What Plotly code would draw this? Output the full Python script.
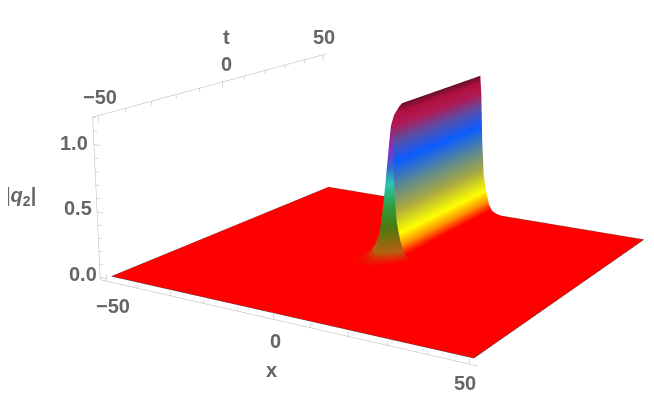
import numpy as np
import plotly.graph_objects as go

# values
x_edges = [-50, 50]
t_rows = [-50, -10, -8, -5, -3.6, -1.4, 0.6, 2, 4.5, 6, 50]
# x positions of the samples across the ridge
x_cols = [-8, -5, -3, -2, -1.2, -0.5, 0, 0.5, 1.2, 2, 3, 4, 5, 6.5, 8]
# |q2| across the ridge, one row per t
heights = [
    [0, 0, 0, 0, 0, 0, 0, 0, 0, 0, 0, 0, 0, 0, 0],
    [0, 0, 0, 0, 0, 0, 0, 0, 0, 0, 0, 0, 0, 0, 0],
    [0, 0.005, 0.01, 0.01, 0.01, 0.01, 0.01, 0.005, 0, 0, 0, 0, 0, 0, 0],
    [0, 0.01, 0.02, 0.03, 0.04, 0.04, 0.04, 0.04, 0.03, 0.02, 0.01, 0, 0, 0, 0],
    [0, 0.01, 0.04, 0.07, 0.10, 0.12, 0.12, 0.11, 0.09, 0.06, 0.03, 0.01, 0, 0, 0],
    [0, 0.02, 0.09, 0.17, 0.32, 0.52, 0.60, 0.52, 0.32, 0.17, 0.09, 0.04, 0.015, 0, 0],
    [0, 0.03, 0.16, 0.29, 0.54, 0.89, 1.03, 0.89, 0.54, 0.29, 0.16, 0.07, 0.025, 0.01, 0],
    [0, 0.03, 0.17, 0.31, 0.59, 0.96, 1.10, 0.96, 0.59, 0.31, 0.17, 0.07, 0.03, 0.01, 0],
    [0, 0.03, 0.18, 0.32, 0.61, 1.00, 1.15, 1.00, 0.61, 0.32, 0.18, 0.08, 0.03, 0.01, 0],
    [0, 0.03, 0.18, 0.33, 0.62, 1.01, 1.17, 1.01, 0.62, 0.33, 0.18, 0.08, 0.03, 0.01, 0],
    [0, 0.03, 0.18, 0.33, 0.62, 1.01, 1.17, 1.01, 0.62, 0.33, 0.18, 0.08, 0.03, 0.01, 0],
]
z_peak = 1.17

tick_labels_x = ["\u221250", "0", "50"]
tick_labels_t = ["\u221250", "0", "50"]
tick_labels_z = ["0.0", "0.5", "1.0"]

box_x = [-52, 52]
box_t = [-52, 52]
box_z = [-0.02, 1.2]

# view fitted to the picture; plotly's field of view is fixed, so the weak
# perspective of the original is applied here and the camera stays orthographic
az, el, D = np.radians(32.53), np.radians(16.08), 1402.0
sx, sz = 3.79, 127.55
off_right, off_up = 59.85, -46.25

view = np.array([np.sin(az) * np.cos(el), -np.cos(az) * np.cos(el), np.sin(el)])
right = np.array([np.cos(az), np.sin(az), 0])
up = np.cross(view, right)
pivot = -(off_right * right + off_up * up)


def warp(x, t, z):
    p = np.stack([np.asarray(x, float) * sx, np.asarray(t, float) * sx, np.asarray(z, float) * sz], axis=-1)
    w = 1 - p @ view / D
    q = pivot + (p - pivot) / w[..., None]
    return q[..., 0] / sx, q[..., 1] / sx, q[..., 2] / sz


x_grid = np.array([[x_edges[0]] + x_cols + [x_edges[1]]] * len(t_rows), dtype=float)
t_grid = np.array([[t] * (len(x_cols) + 2) for t in t_rows], dtype=float)
z_grid = np.array([[0] + r + [0] for r in heights], dtype=float)

wall_scale = [
    [0.0, "#ff0000"], [0.03, "#ff0000"], [0.09, "#ff8c00"], [0.17, "#ffff00"],
    [0.32, "#aaaa40"], [0.47, "#5f8a90"], [0.64, "#0a5cff"], [0.77, "#5a4fa8"],
    [0.88, "#b01a55"], [0.95, "#b01040"], [1.0, "#6a1028"],
]
cap_scale = [
    [0.0, "#ff0000"], [0.06, "#b86010"], [0.22, "#4a7a10"], [0.36, "#30a040"], [0.5, "#28c8b0"],
    [0.62, "#3a60d0"], [0.76, "#a020c0"], [0.88, "#a01060"], [1.0, "#901040"],
]
flat = dict(ambient=1, diffuse=0, specular=0, fresnel=0, roughness=1)

fig = go.Figure()
wx, wt, wz = warp(x_grid, t_grid, z_grid)

# the sheet and ridge wall, with a hole where the front cap goes
sheet_x, sheet_t, sheet_z = wx.copy(), wt.copy(), wz.copy()
sheet_z[2:6, 2:15] = np.nan
fig.add_trace(go.Surface(
    x=sheet_x, y=sheet_t, z=sheet_z, surfacecolor=z_grid / z_peak,
    colorscale=wall_scale, cmin=0, cmax=1, showscale=False,
    lighting=flat, hoverinfo="skip",
))
# front cap of the ridge, coloured by plain hue; it runs out to the sheet edges
# so no seam shows round the hole (everything outside the hole is flat red)
fig.add_trace(go.Surface(
    x=wx[:7], y=wt[:7], z=wz[:7], surfacecolor=z_grid[:7] / z_peak,
    colorscale=cap_scale, cmin=0, cmax=1, showscale=False,
    lighting=flat, hoverinfo="skip",
))

# outline of the sheet
ex, et, ez = warp(
    [x_edges[0], x_edges[1], x_edges[1], x_edges[0], x_edges[0]],
    [x_edges[0], x_edges[0], x_edges[1], x_edges[1], x_edges[0]],
    [0, 0, 0, 0, 0],
)
fig.add_trace(go.Scatter3d(
    x=ex, y=et, z=ez,
    mode="lines", line=dict(color="#444444", width=1), hoverinfo="skip", showlegend=False,
))

# axes with ticks, as Mathematica draws them
ax_x, ax_y, ax_z = [], [], []
def seg(p, q):
    a = warp(*p)
    b = warp(*q)
    ax_x.extend([float(a[0]), float(b[0]), None])
    ax_y.extend([float(a[1]), float(b[1]), None])
    ax_z.extend([float(a[2]), float(b[2]), None])

seg((box_x[0], box_t[0], box_z[0]), (box_x[1], box_t[0], box_z[0]))
seg((box_x[0], box_t[0], box_z[0]), (box_x[0], box_t[0], box_z[1]))
seg((box_x[0], box_t[0], box_z[1]), (box_x[0], box_t[1], box_z[1]))
for v in range(-50, 51, 10):
    size = 0.05 if v % 50 == 0 else 0.03
    seg((v, box_t[0], box_z[0]), (v, box_t[0], box_z[0] + size))
    seg((box_x[0], v, box_z[1]), (box_x[0], v, box_z[1] - size))
for v in np.arange(0, 1.21, 0.1):
    size = 2 if round(v * 10) % 5 == 0 else 1.2
    seg((box_x[0], box_t[0], v), (box_x[0] + size, box_t[0], v))
fig.add_trace(go.Scatter3d(
    x=ax_x, y=ax_y, z=ax_z, mode="lines",
    line=dict(color="#b4b4b4", width=1), hoverinfo="skip", showlegend=False,
))

# page has an 8px body margin
W, H = 646, 412
PAD = 8
label_pos = [
    (tick_labels_t[0], 100, 97), (tick_labels_t[1], 226, 64), (tick_labels_t[2], 324, 37),
    ("t", 227, 37),
    (tick_labels_z[2], 74, 143), (tick_labels_z[1], 78, 208), (tick_labels_z[0], 83, 274),
    ("|<i>q</i><sub>2</sub>|", 20, 196),
    (tick_labels_x[0], 113, 306), (tick_labels_x[1], 275, 341), (tick_labels_x[2], 465, 383),
    ("x", 271, 370),
]
annotations = [
    dict(text=s, x=(px - PAD) / W, y=1 - (py - PAD) / H, xref="paper", yref="paper", showarrow=False,
         xanchor="center", yanchor="middle",
         font=dict(family="Liberation Sans", size=20, color="#666666", weight="bold"))
    for s, px, py in label_pos
]

# orthographic scale is fixed, so the box is sized to set the pixels per unit
unit = 205 * H / 420
range_xy = [-90, 90]
range_z = [-0.6, 2.2]
mid_z = sum(range_z) / 2
# the frame centre sits 4px right of and below the pivot (centre of the window)
cam = pivot + 4 * right - 4 * up - np.array([0, 0, mid_z * sz])
center = cam / unit
eye = center + 6 * view

hidden = dict(visible=False)
fig.update_layout(
    width=W, height=H, margin=dict(l=0, r=0, t=0, b=0),
    paper_bgcolor="white", showlegend=False, annotations=annotations,
    scene=dict(
        domain=dict(x=[0, 1], y=[0, 1]),
        xaxis=dict(range=range_xy, **hidden),
        yaxis=dict(range=range_xy, **hidden),
        zaxis=dict(range=range_z, **hidden),
        aspectmode="manual",
        aspectratio=dict(
            x=(range_xy[1] - range_xy[0]) * sx / unit,
            y=(range_xy[1] - range_xy[0]) * sx / unit,
            z=(range_z[1] - range_z[0]) * sz / unit,
        ),
        camera=dict(
            projection=dict(type="orthographic"),
            center=dict(x=center[0], y=center[1], z=center[2]),
            eye=dict(x=eye[0], y=eye[1], z=eye[2]),
            up=dict(x=0, y=0, z=1),
        ),
    ),
)

fig.write_html("out.html")
